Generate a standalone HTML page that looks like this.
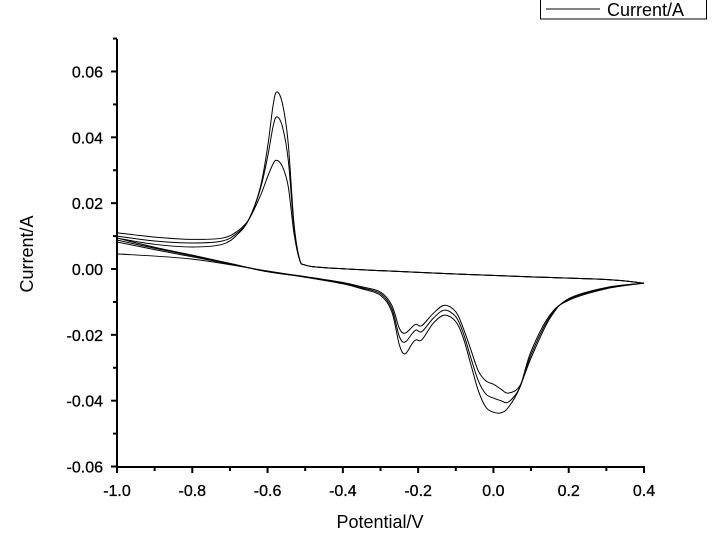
<!DOCTYPE html>
<html><head><meta charset="utf-8"><style>
html,body{margin:0;padding:0;background:#fff;}
svg{display:block;font-family:"Liberation Sans",Arial,sans-serif;}
</style></head><body>
<svg id="chart" width="725" height="542" viewBox="0 0 725 542" xmlns="http://www.w3.org/2000/svg">
<g id="axes"></g>
<g id="plot"></g>
<g>
<rect x="540.5" y="-1" width="166" height="20" fill="#fff" stroke="#000" stroke-width="1"/>
<line x1="546" y1="9" x2="600" y2="9" stroke="#000" stroke-width="1"/>
<text x="607" y="16" font-size="18">Current/A</text>
</g>
<text x="380" y="528" font-size="18" text-anchor="middle">Potential/V</text>
<text transform="translate(33,254) rotate(-90)" font-size="18" text-anchor="middle">Current/A</text>
</svg>
<script>
const xTicks = [-1.0,-0.8,-0.6,-0.4,-0.2,0.0,0.2,0.4];
const xTickLabels = ["-1.0","-0.8","-0.6","-0.4","-0.2","0.0","0.2","0.4"];
const yTicks = [-0.06,-0.04,-0.02,0.00,0.02,0.04,0.06];
const yTickLabels = ["-0.06","-0.04","-0.02","0.00","0.02","0.04","0.06"];

const upperPotential = [-1.0,-0.9,-0.8,-0.72,-0.68,-0.65,-0.62,-0.60,-0.585,-0.575,-0.56,-0.545,-0.53,-0.515,-0.5,-0.45,-0.3,-0.1,0.1,0.3,0.4];
const upperCycle1 = [0.0094,0.0075,0.0067,0.0075,0.0105,0.0150,0.0245,0.0370,0.0500,0.0538,0.0500,0.0380,0.0140,0.0030,0.0012,0.0004,-0.0005,-0.0015,-0.0024,-0.0032,-0.0043];
const upperCycle2 = [0.0100,0.0085,0.0079,0.0085,0.0110,0.0150,0.0240,0.0340,0.0435,0.0462,0.0430,0.0330,0.0130,0.0030,0.0012,0.0004,-0.0005,-0.0015,-0.0024,-0.0032,-0.0043];
const upperCycle3 = [0.0110,0.0097,0.0090,0.0094,0.0115,0.0150,0.0220,0.0280,0.0320,0.0330,0.0310,0.0250,0.0110,0.0028,0.0012,0.0004,-0.0005,-0.0015,-0.0024,-0.0032,-0.0043];

const lowerPotential = [0.4,0.3,0.2,0.15,0.1,0.07,0.04,0.02,0.0,-0.02,-0.04,-0.06,-0.08,-0.10,-0.13,-0.16,-0.19,-0.205,-0.215,-0.235,-0.25,-0.27,-0.3,-0.35,-0.4,-0.5,-0.6,-0.7,-0.8,-0.9,-1.0];
const lowerCycle1 = [-0.0043,-0.0060,-0.0095,-0.0140,-0.0250,-0.0360,-0.0420,-0.0437,-0.0435,-0.0420,-0.0370,-0.0290,-0.0210,-0.0160,-0.0140,-0.0165,-0.0215,-0.0215,-0.0225,-0.0258,-0.0230,-0.0130,-0.0080,-0.0060,-0.0045,-0.0025,-0.0008,0.0017,0.0042,0.0066,0.0094];
const lowerCycle2 = [-0.0043,-0.0058,-0.0092,-0.0145,-0.0260,-0.0360,-0.0404,-0.0400,-0.0392,-0.0380,-0.0340,-0.0270,-0.0195,-0.0145,-0.0125,-0.0150,-0.0190,-0.0185,-0.0195,-0.0222,-0.0205,-0.0120,-0.0075,-0.0057,-0.0043,-0.0024,-0.0008,0.0016,0.0040,0.0063,0.0088];
const lowerCycle3 = [-0.0043,-0.0056,-0.0090,-0.0150,-0.0270,-0.0355,-0.0377,-0.0365,-0.0350,-0.0340,-0.0310,-0.0245,-0.0180,-0.0130,-0.0110,-0.0135,-0.0172,-0.0168,-0.0175,-0.0195,-0.0180,-0.0110,-0.0070,-0.0054,-0.0041,-0.0023,-0.0008,0.0015,0.0037,0.0059,0.0082];

const startPotential = [-1.0,-0.8,-0.6,-0.5,-0.45];
const startCurrent = [0.0046,0.0030,-0.0006,-0.0024,-0.0034];

const X0=117, X1=644, Y0=269, YPX=3292;
function sx(v){ return X0 + (v+1.0)/1.4*(X1-X0); }
function sy(i){ return Y0 - i*YPX; }
const NS="http://www.w3.org/2000/svg";
function mk(tag, attrs, parent){ const e=document.createElementNS(NS,tag); for(const k in attrs) e.setAttribute(k,attrs[k]); parent.appendChild(e); return e; }

const axes=document.getElementById('axes');
const yAxis = mk('line',{x1:X0,y1:39,x2:X0,y2:467.5,stroke:'#000','stroke-width':2},axes);


const xAxis = mk('line',{x1:X0-1,y1:467,x2:X1+1,y2:467,stroke:'#000','stroke-width':2},axes);


for(let k=0;k<=14;k++){
  const v=-1.0+k*0.1, major=(k%2===0);
  const t=mk('line',{x1:sx(v),y1:467,x2:sx(v),y2:major?473:471,stroke:'#000','stroke-width':2},axes);
  
  
}
xTicks.forEach((v,i)=>{
  const t=mk('text',{x:sx(v),y:496,'font-size':16,'text-anchor':'middle','stroke':'#000','stroke-width':0.3},axes);
  t.textContent=xTickLabels[i];
  
  
});
for(let k=0;k<=13;k++){
  const v=-0.06+k*0.01, major=(k%2===0);
  const t=mk('line',{x1:major?X0-6:X0-4,y1:sy(v),x2:X0,y2:sy(v),stroke:'#000','stroke-width':2},axes);
  
  
}
yTicks.forEach((v,i)=>{
  const t=mk('text',{x:X0-14,y:sy(v)+6,'font-size':16,'text-anchor':'end','stroke':'#000','stroke-width':0.3},axes);
  t.textContent=yTickLabels[i];
  
  
});

function pathFrom(xs, ys){
  const p=xs.map((v,i)=>[sx(v),sy(ys[i])]);
  let d='M'+p[0][0].toFixed(2)+','+p[0][1].toFixed(2);
  for(let i=0;i<p.length-1;i++){
    const p0=p[i-1]||p[i], p1=p[i], p2=p[i+1], p3=p[i+2]||p2;
    const c1=[p1[0]+(p2[0]-p0[0])/6, p1[1]+(p2[1]-p0[1])/6];
    const c2=[p2[0]-(p3[0]-p1[0])/6, p2[1]-(p3[1]-p1[1])/6];
    d+=' C'+c1[0].toFixed(2)+','+c1[1].toFixed(2)+' '+c2[0].toFixed(2)+','+c2[1].toFixed(2)+' '+p2[0].toFixed(2)+','+p2[1].toFixed(2);
  }
  return d;
}
const plot=document.getElementById('plot');
const series=[
  ['anodic-scan-cycle-1',upperPotential,upperCycle1],
  ['anodic-scan-cycle-2',upperPotential,upperCycle2],
  ['anodic-scan-cycle-3',upperPotential,upperCycle3],
  ['cathodic-scan-cycle-1',lowerPotential,lowerCycle1],
  ['cathodic-scan-cycle-2',lowerPotential,lowerCycle2],
  ['cathodic-scan-cycle-3',lowerPotential,lowerCycle3],
  ['initial-scan',startPotential,startCurrent]
];
series.forEach(s=>{
  const el=mk('path',{d:pathFrom(s[1],s[2]),fill:'none',stroke:'#000','stroke-width':1},plot);
  
  
});
</script>
</body></html>
